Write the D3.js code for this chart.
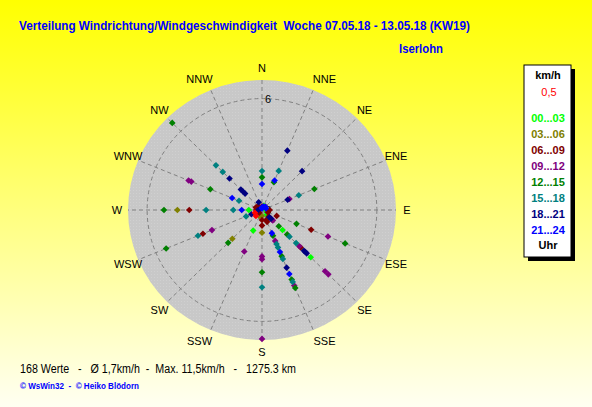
<!DOCTYPE html>
<html><head><meta charset="utf-8">
<script src="https://cdn.jsdelivr.net/npm/d3@7"></script>
<style>body{margin:0;padding:0;overflow:hidden}svg{display:block}text{font-family:"Liberation Sans",Arial,sans-serif}</style>
</head><body><div id="chart"></div>
<script>
const directions = ["N","NNE","NE","ENE","E","ESE","SE","SSE","S","SSW","SW","WSW","W","WNW","NW","NNW"];
const hourBins = ["00...03","03...06","06...09","09...12","12...15","15...18","18...21","21...24"];
const binColors = ["#00ff00","#808000","#800000","#800080","#008000","#008080","#000080","#0000ff"];
const radialTicks = [0, 6];
// [direction index, speed]
const h00_03 = [[12,0.69],[9,1.2],[6,1.52],[6,3.6],[5,0.3],[6,0.35],[1,0.25],[4,0.2]];
const h03_06 = [[12,4.42],[10,2.19],[8,1.22],[8,0.32],[9,0.35],[14,0.25]];
const h06_09 = [[12,3.8],[11,3.34],[8,0.84],[8,0.54],[7,0.58],[7,0.69],[5,0.83],[5,2.78],[6,2.86],
  [5,0.33],[11,0.3],[10,0.2],[12,0.3],[14,0.3],[0,0.2],[2,0.25],[4,0.4],[6,0.5],[13,0.35]];
const h09_12 = [[13,4.0],[13,4.15],[11,2.83],[9,2.42],[8,2.5],[8,2.65],[8,6.94],[3,1.55],[6,0.8],
  [6,0.75],[7,1.8],[7,4.4],[6,2.76],[6,4.66],[6,4.9],[5,3.73]];
const h12_15 = [[14,6.63],[13,2.92],[0,1.76],[1,1.62],[3,2.96],[12,5.12],[11,5.42],[10,2.5],[8,3.35],
  [7,1.5],[7,2.69],[7,4.05],[7,4.54],[6,1.24],[6,1.86],[5,1.95],[5,4.7]];
const h15_18 = [[14,3.4],[14,2.9],[13,1.3],[0,2.1],[1,2.28],[3,2.08],[12,2.92],[12,1.5],[11,0.9],
  [11,3.62],[8,4.16],[7,1.98],[7,2.18],[7,2.85],[7,4.19],[6,2.03],[6,2.52]];
const h18_21 = [[1,3.46],[2,2.96],[14,1.56],[14,1.41],[14,1.25],[14,2.4],[15,0.45],[3,1.45],[11,0.6],
  [7,3.36],[6,3.1],[6,3.2],[6,3.3],[6,0.67],[6,0.55],[12,0.2]];
const h21_24 = [[0,1.4],[1,1.72],[13,1.69],[12,1.06],[7,1.35],[7,2.45],[7,3.73],[0,0.15],[2,0.25],
  [1,0.2],[3,0.22],[0,0.08]];
const calm = [[10,0.45],[11,0.4]];
const series = [h00_03,h03_06,h06_09,h09_12,h12_15,h15_18,h18_21,h21_24];

const W = 592, H = 407, cx = 262, cy = 210;
const svg = d3.select("#chart").append("svg").attr("width", W).attr("height", H);
const defs = svg.append("defs");
const grad = defs.append("linearGradient").attr("id","bg").attr("x1",0).attr("y1",0).attr("x2",0).attr("y2",1);
grad.append("stop").attr("offset","0").attr("stop-color","#ffff00");
grad.append("stop").attr("offset","1").attr("stop-color","#fffff2");
svg.append("rect").attr("width",W).attr("height",H).attr("fill","url(#bg)");
const pat = defs.append("pattern").attr("id","dots").attr("width",3).attr("height",3).attr("patternUnits","userSpaceOnUse");
pat.append("rect").attr("width",3).attr("height",3).attr("fill","#c8c8c8");
pat.append("rect").attr("x",1).attr("y",1).attr("width",1).attr("height",1).attr("fill","#d0d0d0");

const maxV = 7;
const rX = d3.scaleLinear().domain([0, maxV]).range([0, 134]);
const rY = d3.scaleLinear().domain([0, maxV]).range([0, 130]);
const ang = d3.scalePoint().domain(d3.range(16)).range([0, 337.5]);
const px = (d, v) => cx + rX(v) * Math.sin(ang(d) * Math.PI / 180);
const py = (d, v) => cy - rY(v) * Math.cos(ang(d) * Math.PI / 180);

const g = svg.append("g");
g.append("ellipse").attr("cx",cx).attr("cy",cy).attr("rx",rX(maxV)).attr("ry",rY(maxV)).attr("fill","url(#dots)");
g.selectAll("ellipse.ring").data(radialTicks.filter(t=>t>0)).join("ellipse").attr("class","ring")
  .attr("cx",cx).attr("cy",cy).attr("rx",d=>rX(d)).attr("ry",d=>rY(d))
  .attr("fill","none").attr("stroke","#808080").attr("stroke-dasharray","4,3");
g.selectAll("line.spoke").data(d3.range(16)).join("line").attr("class","spoke")
  .attr("x1",cx).attr("y1",cy).attr("x2",d=>px(d,maxV)).attr("y2",d=>py(d,maxV))
  .attr("stroke","#808080").attr("stroke-dasharray","4,3");

g.selectAll("text.tick").data(radialTicks).join("text").attr("class","tick")
  .attr("x", cx + 3).attr("y", d => cy - rY(d) + 4).attr("font-size", 11).text(d => d);

const lblX = d3.scaleLinear().domain([0,1]).range([0,145]);
const lblY = d3.scaleLinear().domain([0,1]).range([0,142]);
g.selectAll("text.dir").data(directions).join("text").attr("class","dir")
  .attr("x",(d,i)=>{const s=Math.sin(ang(i)*Math.PI/180);const extra=(i%8===1||i%8===7)?Math.sign(s)*7:0;return cx+lblX(s)+extra;})
  .attr("y",(d,i)=>cy-lblY(Math.cos(ang(i)*Math.PI/180))+4)
  .attr("text-anchor","middle").attr("font-size",11).text(d=>d);

const marker = d3.symbol().type(d3.symbolSquare).size(22);
series.forEach((s, k) => {
  g.selectAll(null).data(s).join("path")
    .attr("d", marker).attr("fill", binColors[k])
    .attr("transform", d => `translate(${px(d[0],d[1])},${py(d[0],d[1])}) rotate(45)`);
});
g.selectAll(null).data(calm).join("path").attr("d", marker).attr("fill","#ff0000")
  .attr("transform", d => `translate(${px(d[0],d[1])},${py(d[0],d[1])}) rotate(45)`);

svg.append("text").attr("x",19).attr("y",30).attr("font-size",13).attr("font-weight","bold").attr("fill","#0000ff")
  .attr("xml:space","preserve").style("white-space","pre").attr("textLength",451).attr("lengthAdjust","spacingAndGlyphs")
  .text("Verteilung Windrichtung/Windgeschwindigkeit  Woche 07.05.18 - 13.05.18 (KW19)");
svg.append("text").attr("x",399).attr("y",53).attr("font-size",13).attr("font-weight","bold").attr("fill","#0000ff")
  .attr("textLength",44).attr("lengthAdjust","spacingAndGlyphs").text("Iserlohn");

// legend
svg.append("rect").attr("x",528).attr("y",69).attr("width",47).attr("height",192).attr("fill","#000");
svg.append("rect").attr("x",524).attr("y",65).attr("width",47).attr("height",192).attr("fill","#fff").attr("stroke","#000");
const lx = 548;
svg.append("text").attr("x",lx).attr("y",79).attr("text-anchor","middle").attr("font-size",11).attr("font-weight","bold").text("km/h");
svg.append("text").attr("x",lx+1).attr("y",96).attr("text-anchor","middle").attr("font-size",11).attr("fill","#ff0000").text("0,5");
const ly = d3.scaleLinear().domain([0,7]).range([122,234]);
svg.selectAll("text.leg").data(hourBins).join("text").attr("class","leg")
  .attr("x",lx).attr("y",(d,i)=>ly(i)).attr("text-anchor","middle").attr("font-size",11).attr("font-weight","bold")
  .attr("fill",(d,i)=>binColors[i]).text(d=>d);
svg.append("text").attr("x",lx).attr("y",249).attr("text-anchor","middle").attr("font-size",11).attr("font-weight","bold").text("Uhr");

svg.append("text").attr("x",20).attr("y",373).attr("font-size",12).attr("xml:space","preserve").style("white-space","pre")
  .attr("textLength",276).attr("lengthAdjust","spacingAndGlyphs")
  .text("168 Werte   -   Ø 1,7km/h  -  Max. 11,5km/h   -   1275.3 km");
svg.append("text").attr("x",20).attr("y",389).attr("font-size",9).attr("font-weight","bold").attr("fill","#0000ff")
  .attr("xml:space","preserve").style("white-space","pre").attr("textLength",119).attr("lengthAdjust","spacingAndGlyphs")
  .text("© WsWin32  -  © Heiko Blödorn");
</script></body></html>
